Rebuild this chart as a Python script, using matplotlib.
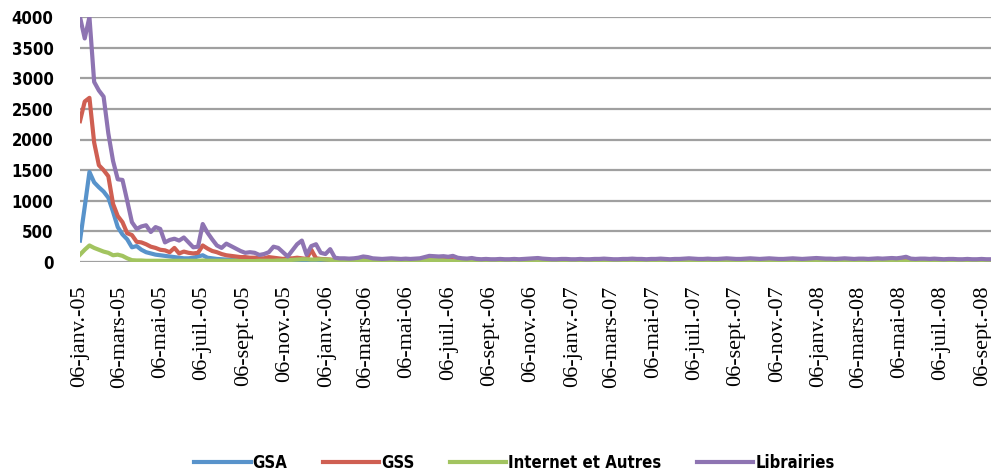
import numpy as np
import pandas as pd
import matplotlib
matplotlib.use("Agg")
import matplotlib.pyplot as plt
from matplotlib import font_manager

# Weekly series, first week 06-janv.-05
start = "2005-01-06"

gsa = [350, 900, 1470, 1300, 1220, 1150, 1050, 820, 570, 450,
       370, 240, 260, 200, 160, 140, 120, 110, 100, 90,
       80, 70, 60, 60, 70, 90, 110, 70, 60, 50,
       45, 40, 40, 35, 30, 30, 30, 25, 25, 25,
       20, 20, 20, 20, 20, 20, 20, 20, 20, 20,
       15, 15, 15, 15, 10, 10, 10, 10, 10, 10,
       10, 10, 10, 10, 10, 10, 10, 10, 10, 10,
       10, 10, 10, 15, 15, 15, 15, 10, 10, 10,
       10, 10, 10, 10, 10, 10, 10, 10, 10, 10,
       10, 10, 10, 10, 10, 10, 10, 10, 10, 10,
       10, 10, 10, 10, 10, 10, 10, 10, 10, 10,
       10, 10, 10, 10, 10, 10, 10, 10, 10, 10,
       10, 10, 10, 10, 10, 10, 10, 10, 10, 10,
       10, 10, 10, 10, 10, 10, 10, 10, 10, 10,
       10, 10, 10, 10, 10, 10, 10, 10, 10, 10,
       10, 10, 10, 10, 10, 10, 10, 10, 10, 10,
       10, 10, 10, 10, 10, 10, 10, 10, 10, 10,
       10, 10, 10, 10, 10, 10, 10, 10, 10, 10,
       10, 10, 10, 10, 10, 10, 10, 10, 10, 10,
       10, 10, 10, 10]

gss = [2300, 2620, 2680, 1950, 1580, 1500, 1400, 950, 750, 650,
       470, 440, 330, 320, 290, 250, 230, 200, 190, 160,
       230, 140, 170, 150, 140, 150, 270, 220, 180, 160,
       130, 110, 100, 90, 80, 80, 70, 70, 60, 60,
       80, 70, 60, 50, 60, 60, 70, 60, 50, 200,
       60, 50, 45, 40, 30, 25, 25, 20, 25, 25,
       30, 25, 20, 20, 20, 20, 20, 20, 20, 20,
       20, 20, 25, 25, 30, 25, 30, 35, 40, 30,
       25, 20, 20, 20, 15, 15, 15, 15, 15, 15,
       15, 15, 15, 15, 20, 20, 20, 15, 15, 15,
       15, 15, 15, 15, 15, 15, 15, 15, 15, 15,
       15, 15, 20, 15, 15, 15, 15, 15, 15, 15,
       15, 15, 15, 15, 15, 15, 15, 15, 20, 20,
       15, 15, 15, 15, 15, 15, 15, 20, 15, 15,
       15, 15, 20, 15, 15, 15, 15, 15, 15, 15,
       15, 20, 15, 15, 15, 15, 20, 20, 15, 15,
       15, 15, 15, 15, 15, 15, 15, 15, 15, 20,
       15, 15, 20, 20, 25, 20, 15, 15, 15, 15,
       15, 15, 15, 15, 15, 15, 15, 15, 15, 15,
       15, 15, 15, 15]

internet = [120, 200, 270, 230, 200, 170, 150, 110, 120, 100,
            60, 30, 25, 25, 20, 20, 20, 20, 20, 20,
            20, 20, 20, 20, 20, 20, 25, 20, 20, 20,
            20, 20, 20, 20, 15, 15, 15, 15, 20, 20,
            20, 20, 25, 25, 30, 35, 40, 45, 45, 40,
            40, 45, 40, 35, 20, 15, 15, 15, 15, 20,
            30, 25, 15, 15, 10, 10, 10, 10, 10, 10,
            10, 10, 15, 20, 30, 30, 30, 25, 20, 15,
            10, 10, 10, 10, 10, 10, 10, 10, 10, 10,
            10, 10, 10, 10, 10, 10, 10, 10, 10, 10,
            10, 10, 10, 10, 10, 10, 10, 10, 10, 10,
            10, 10, 10, 10, 10, 10, 10, 10, 10, 10,
            10, 10, 10, 10, 10, 10, 10, 10, 10, 10,
            10, 10, 10, 10, 10, 10, 10, 10, 10, 10,
            10, 10, 10, 10, 10, 10, 10, 10, 10, 10,
            10, 10, 10, 10, 10, 10, 10, 10, 10, 10,
            10, 10, 10, 10, 10, 10, 10, 10, 10, 10,
            10, 10, 10, 10, 10, 10, 10, 10, 10, 10,
            10, 10, 10, 10, 10, 10, 10, 10, 10, 10,
            10, 10, 10, 10]

librairies = [4000, 3650, 4000, 2940, 2800, 2700, 2100, 1650, 1350, 1340,
              1000, 650, 540, 580, 600, 490, 570, 540, 320, 360,
              380, 350, 400, 320, 240, 250, 620, 480, 370, 270,
              230, 300, 260, 220, 180, 150, 160, 150, 115, 130,
              160, 250, 230, 160, 90, 190, 290, 350, 120, 260,
              290, 150, 130, 210, 70, 60, 60, 55, 60, 70,
              90, 80, 60, 55, 50, 55, 60, 55, 50, 55,
              50, 55, 60, 80, 100, 95, 90, 95, 85, 100,
              70, 60, 55, 65, 50, 45, 50, 45, 45, 50,
              45, 45, 50, 45, 50, 55, 60, 65, 55, 50,
              45, 45, 50, 50, 45, 45, 50, 45, 45, 50,
              50, 55, 50, 45, 45, 50, 50, 55, 50, 50,
              45, 50, 50, 55, 50, 45, 50, 50, 55, 60,
              55, 50, 50, 55, 50, 50, 55, 60, 55, 50,
              50, 55, 60, 55, 50, 55, 60, 55, 50, 50,
              55, 60, 55, 50, 55, 60, 65, 60, 55, 55,
              50, 55, 60, 55, 50, 55, 55, 50, 55, 60,
              55, 60, 65, 60, 70, 85, 55, 50, 55, 55,
              50, 55, 50, 45, 50, 50, 45, 45, 50, 45,
              45, 50, 45, 45]

series = ["GSA", "GSS", "Internet et Autres", "Librairies"]
colors = ["#5893cb", "#cf5f52", "#a2c460", "#8e74b2"]

tick_labels = ["06-janv.-05", "06-mars-05", "06-mai-05", "06-juil.-05", "06-sept.-05", "06-nov.-05",
               "06-janv.-06", "06-mars-06", "06-mai-06", "06-juil.-06", "06-sept.-06", "06-nov.-06",
               "06-janv.-07", "06-mars-07", "06-mai-07", "06-juil.-07", "06-sept.-07", "06-nov.-07",
               "06-janv.-08", "06-mars-08", "06-mai-08", "06-juil.-08", "06-sept.-08"]

dates = pd.date_range(start, periods=len(librairies), freq="7D")
tick_dates = pd.date_range(start, periods=len(tick_labels), freq=pd.DateOffset(months=2))

# condensed bold face for the axis numbers / legend
bold_font = font_manager.FontProperties(family="DejaVu Sans", weight="bold",
                                        stretch="condensed", size=12)

fig = plt.figure(figsize=(9.91, 4.75), dpi=100)
ax = fig.add_axes([80 / 991, 1 - 262 / 475, 911 / 991, 245 / 475])

for vals, name, c in zip([gsa, gss, internet, librairies], series, colors):
    ax.plot(dates, vals, color=c, linewidth=3, label=name, solid_joinstyle="round")

ax.set_xlim(dates[0], dates[-1])
ax.set_ylim(0, 4000)
ax.set_yticks(np.arange(0, 4001, 500))
ax.yaxis.grid(True, color="#a0a0a0", linewidth=1.6)
ax.set_axisbelow(True)
for s in ax.spines.values():
    s.set_visible(False)

ax.set_xticks(tick_dates)
ax.set_xticklabels(tick_labels, rotation=90, family="Liberation Serif", fontsize=16)
ax.tick_params(axis="x", length=0, pad=17)
ax.tick_params(axis="y", length=0, pad=19)
for t in ax.get_yticklabels():
    t.set_fontproperties(bold_font)

fig.legend(loc="center", bbox_to_anchor=(0.519, 0.026), ncol=4, frameon=False,
           handlelength=3.4, handletextpad=0.12, columnspacing=2.1, prop=bold_font)

fig.savefig("out.png", dpi=100)
